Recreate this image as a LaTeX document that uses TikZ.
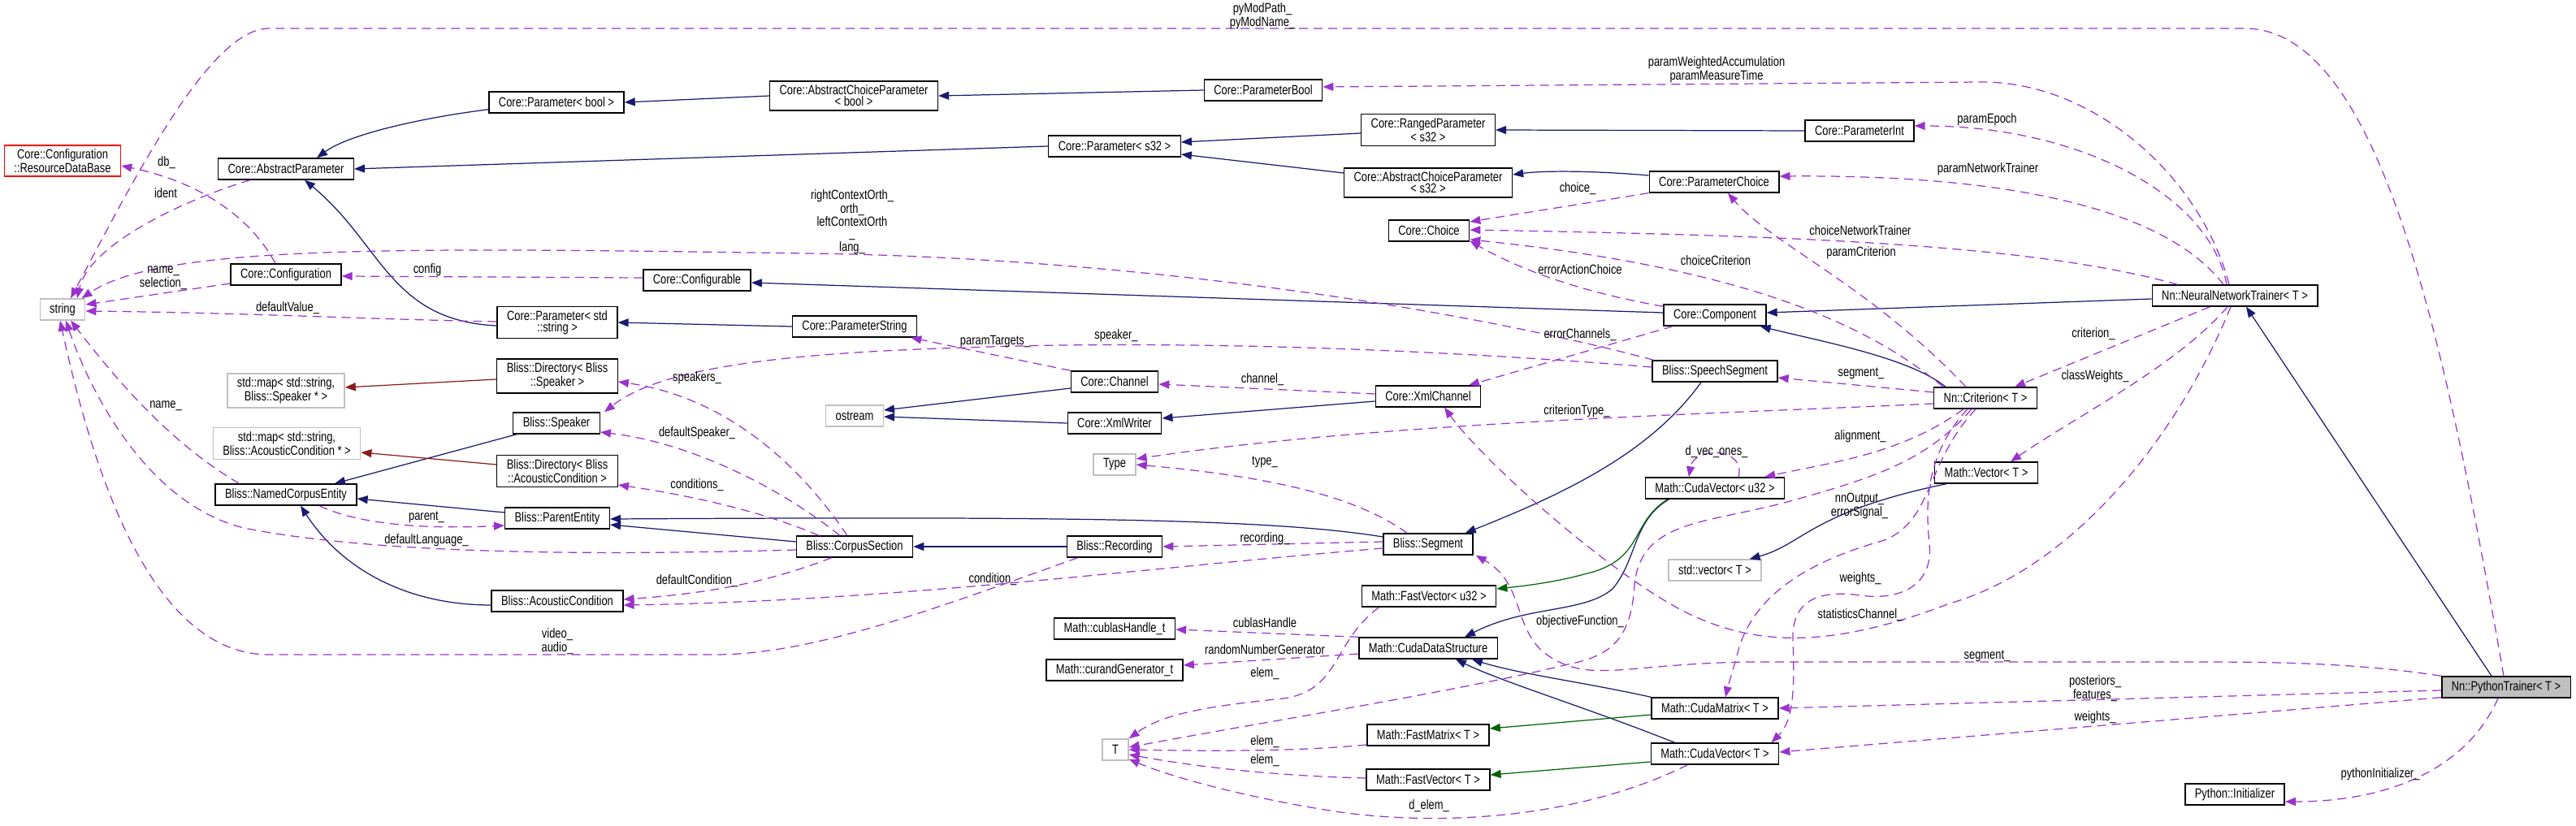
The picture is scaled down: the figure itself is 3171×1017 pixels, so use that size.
\documentclass[tikz,border=0pt]{standalone}
\usepackage{fontspec}
\usepackage{tikz}
\usetikzlibrary{arrows.meta,calc}
\newfontfamily\dxfont[FakeStretch=0.79]{Liberation Sans}
\newcommand{\dxsize}{\dxfont\fontsize{9.3}{7.8}\selectfont}
\tikzset{
  clsbox/.style  ={draw=black, line width=0.8pt, fill=white, align=center,
                   minimum height=0.52cm, inner xsep=0.24cm, inner ysep=0.1cm,
                   font=\dxsize},
  extbox/.style  ={clsbox, draw=extgray},
  undocbox/.style={clsbox, draw=red},
  selfbox/.style ={clsbox, fill=extgray},
  lbl/.style     ={font=\dxsize, align=center, inner sep=0pt},
  inharr/.style  ={-{Triangle[length=0.26cm,width=0.2cm]}, line width=0.7pt, draw=inhblue},
  tplarr/.style  ={inharr, draw=tplgreen},
  maparr/.style  ={inharr, draw=mapred},
  usearr/.style  ={inharr, draw=useorchid, dash pattern=on 0.22cm off 0.14cm},
}
\definecolor{inhblue}  {RGB}{25,25,112}
\definecolor{tplgreen} {RGB}{0,100,0}
\definecolor{mapred}   {RGB}{139,26,26}
\definecolor{useorchid}{RGB}{154,50,205}
\definecolor{extgray}  {RGB}{191,191,191}

\begin{document}
\begin{tikzpicture}[x=0.02cm,y=-0.02cm]
  \useasboundingbox (0,0) rectangle (3171,1017);
  % classes
  \node[undocbox] (resdb) at (77,198) {Core::Configuration\\::ResourceDataBase};
  \node[extbox] (str) at (77,381) {string};
  \node[clsbox] (absparam) at (352,208) {Core::AbstractParameter};
  \node[clsbox] (parbool) at (685,126) {Core::Parameter< bool >};
  \node[clsbox] (acpbool) at (1051,118) {Core::AbstractChoiceParameter\\< bool >};
  \node[clsbox] (pbool) at (1555,111) {Core::ParameterBool};
  \node[clsbox] (pars32) at (1372,180) {Core::Parameter< s32 >};
  \node[clsbox] (ranged) at (1758,160) {Core::RangedParameter\\< s32 >};
  \node[clsbox] (pint) at (2289,161) {Core::ParameterInt};
  \node[clsbox] (acps32) at (1758,225) {Core::AbstractChoiceParameter\\< s32 >};
  \node[clsbox] (pchoice) at (2110,224) {Core::ParameterChoice};
  \node[clsbox] (choice) at (1759,284) {Core::Choice};
  \node[clsbox] (config) at (352,338) {Core::Configuration};
  \node[clsbox] (configurable) at (858,345) {Core::Configurable};
  \node[clsbox] (component) at (2111,388) {Core::Component};
  \node[clsbox] (nnt) at (2751,364) {Nn::NeuralNetworkTrainer< T >};
  \node[clsbox] (parstr) at (686,397) {Core::Parameter< std\\::string >};
  \node[clsbox] (pstring) at (1052,402) {Core::ParameterString};
  \node[clsbox] (dirspk) at (686,463) {Bliss::Directory< Bliss\\::Speaker >};
  \node[extbox] (mapspk) at (352,481) {std::map< std::string,\\Bliss::Speaker * >};
  \node[clsbox] (speaker) at (685,521) {Bliss::Speaker};
  \node[extbox] (mapac) at (353,546) {std::map< std::string,\\Bliss::AcousticCondition * >};
  \node[clsbox] (dirac) at (686,580) {Bliss::Directory< Bliss\\::AcousticCondition >};
  \node[clsbox] (nce) at (352,609) {Bliss::NamedCorpusEntity};
  \node[clsbox] (parent) at (686,638) {Bliss::ParentEntity};
  \node[clsbox] (accond) at (686,740) {Bliss::AcousticCondition};
  \node[clsbox] (channel) at (1372,470) {Core::Channel};
  \node[extbox] (ostream) at (1052,512) {ostream};
  \node[clsbox] (xmlwriter) at (1372,521) {Core::XmlWriter};
  \node[extbox] (typeT) at (1372,572) {Type};
  \node[clsbox] (corpsec) at (1052,673) {Bliss::CorpusSection};
  \node[clsbox] (recording) at (1372,673) {Bliss::Recording};
  \node[clsbox] (cublas) at (1372,774) {Math::cublasHandle\_t};
  \node[clsbox] (curand) at (1372,825) {Math::curandGenerator\_t};
  \node[extbox] (tT) at (1373,923) {T};
  \node[clsbox] (speechseg) at (2111,457) {Bliss::SpeechSegment};
  \node[clsbox] (xmlchan) at (1758,488) {Core::XmlChannel};
  \node[clsbox] (crit) at (2444,490) {Nn::Criterion< T >};
  \node[clsbox] (mvec) at (2445,582) {Math::Vector< T >};
  \node[clsbox] (segment) at (1758,670) {Bliss::Segment};
  \node[clsbox] (cvu32) at (2111,601) {Math::CudaVector< u32 >};
  \node[extbox] (stdvec) at (2111,702) {std::vector< T >};
  \node[clsbox] (fvu32) at (1759,734) {Math::FastVector< u32 >};
  \node[clsbox] (cds) at (1758,798) {Math::CudaDataStructure};
  \node[clsbox] (cmat) at (2111,872) {Math::CudaMatrix< T >};
  \node[clsbox] (fmat) at (1758,905) {Math::FastMatrix< T >};
  \node[clsbox] (cvT) at (2111,928) {Math::CudaVector< T >};
  \node[clsbox] (fvT) at (1758,960) {Math::FastVector< T >};
  \node[selfbox] (pytr) at (3085,846) {Nn::PythonTrainer< T >};
  \node[clsbox] (pyinit) at (2751,978) {Python::Initializer};
  % inheritance
  \draw[inharr] ($(parbool.south west)+(0,-5)$) .. controls (520,145) and (430,165) .. ($(absparam.north)+(38,0)$);
  \draw[inharr] (acpbool.west) -- (parbool.east);
  \draw[inharr] (pbool.west) -- (acpbool.east);
  \draw[inharr] (pars32.west) -- (absparam.east);
  \draw[inharr] ($(ranged.west)+(0,4)$) -- ($(pars32.east)+(0,-5)$);
  \draw[inharr] ($(acps32.west)+(0,-12)$) -- ($(pars32.east)+(0,10)$);
  \draw[inharr] (pint.west) -- (ranged.east);
  \draw[inharr] ($(pchoice.west)+(0,-8)$) .. controls (1960,210) and (1900,210) .. ($(acps32.east)+(0,-10)$);
  \draw[inharr] ($(parstr.west)+(0,4)$) .. controls (480,395) and (470,300) .. ($(absparam.south)+(23,0)$);
  \draw[inharr] (pstring.west) -- (parstr.east);
  \draw[inharr] ($(component.west)+(0,-3)$) -- ($(configurable.east)+(0,3)$);
  \draw[inharr] ($(nnt.west)+(0,4)$) -- ($(component.east)+(0,-3)$);
  \draw[inharr] ($(crit.north west)+(15,0)$) .. controls (2350,440) and (2240,420) .. ($(component.south east)+(-8,0)$);
  \draw[inharr] ($(pytr.north)+(-18,0)$) -- ($(nnt.south)+(14,0)$);
  \draw[inharr] ($(speaker.south west)+(5,0)$) -- ($(nce.north)+(60,0)$);
  \draw[inharr] ($(parent.west)+(0,-7)$) -- ($(nce.east)+(0,5)$);
  \draw[inharr] ($(accond.west)+(0,5)$) .. controls (500,745) and (420,700) .. ($(nce.south)+(18,0)$);
  \draw[inharr] ($(corpsec.west)+(0,-6)$) -- ($(parent.east)+(0,8)$);
  \draw[inharr] ($(segment.west)+(0,-9)$) .. controls (1560,638) and (1300,636) .. ($(parent.east)+(0,1)$);
  \draw[inharr] (recording.west) -- (corpsec.east);
  \draw[inharr] ($(speechseg.south)+(-17,0)$) .. controls (2030,560) and (1920,610) .. ($(segment.north east)+(-10,0)$);
  \draw[inharr] ($(channel.west)+(0,8)$) -- ($(ostream.east)+(0,-7)$);
  \draw[inharr] (xmlwriter.west) -- ($(ostream.east)+(0,1)$);
  \draw[inharr] ($(xmlchan.west)+(0,6)$) -- ($(xmlwriter.east)+(0,-6)$);
  \draw[inharr] ($(mvec.south west)+(15,0)$) .. controls (2230,630) and (2220,670) .. ($(stdvec.north east)+(-15,0)$);
  \draw[inharr] ($(cvu32.south west)+(30,0)$) .. controls (2010,640) and (2015,690) .. (1985,725) .. controls (1950,755) and (1880,745) .. ($(cds.north)+(45,0)$);
  \draw[inharr] (cmat.north west) .. controls (1950,840) and (1870,830) .. ($(cds.south east)+(-32,0)$);
  \draw[inharr] ($(cvT.north west)+(30,0)$) .. controls (1950,870) and (1850,840) .. ($(cds.south east)+(-52,0)$);
  % template instances
  \draw[tplarr] ($(cvu32.south west)+(28,0)$) .. controls (2005,645) and (2025,690) .. (1950,707) .. controls (1910,718) and (1870,722) .. ($(fvu32.east)+(0,-9)$);
  \draw[tplarr] ($(cmat.west)+(0,8)$) -- ($(fmat.east)+(0,-8)$);
  \draw[tplarr] ($(cvT.west)+(0,10)$) -- ($(fvT.east)+(0,-6)$);
  \draw[maparr] ($(dirspk.west)+(0,4)$) -- ($(mapspk.east)+(0,-4)$);
  \draw[maparr] ($(dirac.west)+(0,-8)$) -- ($(mapac.east)+(0,11)$);
  % usage
  \draw[usearr] ($(pytr.north)+(-3,0)$) .. controls (3010,420) and (2930,35) .. (2763,35) -- (331,35) .. controls (260,35) and (170,210) .. ($(str.north)+(10,0)$);
  \draw[usearr] ($(nnt.north)+(-7,0)$) .. controls (2710,220) and (2580,101) .. (2440,101) -- ($(pbool.east)+(0,-4)$);
  \draw[usearr] ($(nnt.north)+(-10,0)$) .. controls (2720,240) and (2560,155) .. ($(pint.east)+(0,-6)$);
  \draw[usearr] ($(nnt.north)+(-14,0)$) .. controls (2660,250) and (2450,215) .. ($(pchoice.east)+(0,-7)$);
  \draw[usearr] ($(nnt.north west)+(32,0)$) .. controls (2500,300) and (2200,290) .. ($(choice.east)+(0,-1)$);
  \draw[usearr] ($(crit.north west)+(12,0)$) .. controls (2300,400) and (2150,330) .. ($(choice.east)+(0,11)$);
  \draw[usearr] ($(crit.north west)+(40,0)$) .. controls (2300,350) and (2180,300) .. ($(pchoice.south)+(17,0)$);
  \draw[usearr] ($(component.north west)+(0,3)$) .. controls (1920,355) and (1850,320) .. ($(choice.south east)+(0,-1)$);
  \draw[usearr] (pchoice.south west) -- ($(choice.east)+(0,-11)$);
  \draw[usearr] ($(component.south west)+(12,0)$) -- ($(xmlchan.north)+(50,0)$);
  \draw[usearr] ($(speechseg.north west)+(2,0)$) .. controls (1800,380) and (1400,318) .. (1000,312) .. controls (500,305) and (200,300) .. ($(str.north east)+(-5,0)$);
  \draw[usearr] ($(configurable.west)+(0,-3)$) -- ($(config.east)+(0,2)$);
  \draw[usearr] ($(config.west)+(0,11)$) -- ($(str.east)+(0,-6)$);
  \draw[usearr] ($(config.north)+(-13,0)$) .. controls (310,270) and (250,225) .. ($(resdb.east)+(0,6)$);
  \draw[usearr] ($(absparam.south west)+(40,0)$) .. controls (230,245) and (110,300) .. ($(str.north)+(18,0)$);
  \draw[usearr] ($(parstr.west)+(0,-1)$) .. controls (450,393) and (300,385) .. ($(str.east)+(0,2)$);
  \draw[usearr] ($(nce.north west)+(30,0)$) .. controls (200,540) and (130,450) .. ($(str.south)+(10,0)$);
  \draw[usearr] ($(corpsec.west)+(0,4)$) .. controls (700,685) and (450,680) .. (300,650) .. controls (180,620) and (110,480) .. ($(str.south)+(4,0)$);
  \draw[usearr] ($(recording.south west)+(14,0)$) .. controls (1150,750) and (1000,806) .. (880,806) -- (331,806) .. controls (180,806) and (110,560) .. ($(str.south)+(-3,0)$);
  \draw[usearr] ($(nce.south)+(41,0)$) .. controls (440,645) and (520,652) .. ($(parent.west)+(0,9)$);
  \draw[usearr] (channel.north west) -- ($(pstring.south east)+(-8,0)$);
  \draw[usearr] ($(speechseg.west)+(0,-5)$) .. controls (1700,425) and (1400,420) .. (1188,428) .. controls (950,435) and (810,455) .. ($(speaker.north east)+(5,0)$);
  \draw[usearr] ($(corpsec.north west)+(63,0)$) .. controls (990,580) and (900,490) .. ($(dirspk.east)+(0,7)$);
  \draw[usearr] ($(corpsec.north west)+(54,0)$) .. controls (960,600) and (850,545) .. ($(speaker.east)+(0,11)$);
  \draw[usearr] ($(corpsec.north west)+(28,0)$) .. controls (940,630) and (850,610) .. ($(dirac.east)+(0,17)$);
  \draw[usearr] ($(corpsec.south west)+(44,0)$) .. controls (950,715) and (880,730) .. ($(accond.east)+(0,-2)$);
  \draw[usearr] ($(segment.west)+(0,5)$) .. controls (1400,700) and (1100,740) .. ($(accond.east)+(0,5)$);
  \draw[usearr] ($(segment.west)+(0,-3)$) -- (recording.east);
  \draw[usearr] ($(segment.north west)+(30,0)$) .. controls (1680,620) and (1600,590) .. (typeT.east);
  \draw[usearr] ($(crit.west)+(0,7)$) .. controls (2100,510) and (1700,520) .. ($(typeT.east)+(0,-7)$);
  \draw[usearr] ($(crit.west)+(0,-7)$) -- ($(speechseg.east)+(0,8)$);
  \draw[usearr] ($(crit.south west)+(37,0)$) .. controls (2340,560) and (2250,570) .. ($(cvu32.north east)+(-25,0)$);
  \draw[usearr] ($(cvu32.north)+(29,0)$) .. controls (2150,550) and (2085,550) .. ($(cvu32.north)+(-32,0)$);
  \draw[usearr] ($(crit.south west)+(52,0)$) .. controls (2370,570) and (2380,640) .. (2320,665) .. controls (2230,690) and (2160,730) .. (2140,800) .. controls (2132,830) and (2127,845) .. ($(cmat.north)+(13,0)$);
  \draw[usearr] ($(crit.south west)+(47,0)$) .. controls (2370,570) and (2300,590) .. (2200,618) .. controls (2100,645) and (2020,640) .. (2012,720) .. controls (2008,790) and (1980,808) .. (1930,818) .. controls (1800,850) and (1550,890) .. ($(tT.east)+(0,-3)$);
  \draw[usearr] ($(crit.south west)+(42,0)$) .. controls (2370,560) and (2370,620) .. (2375,670) .. controls (2380,720) and (2340,740) .. (2290,733) .. controls (2230,725) and (2205,745) .. (2207,790) .. controls (2210,860) and (2205,890) .. ($(cvT.north east)+(-10,0)$);
  \draw[usearr] ($(nnt.south)+(-5,0)$) .. controls (2680,540) and (2550,700) .. (2400,743) .. controls (2250,800) and (2150,800) .. (2050,740) .. controls (1950,680) and (1820,560) .. ($(xmlchan.south)+(20,0)$);
  \draw[usearr] ($(nnt.south west)+(72,0)$) -- ($(crit.north east)+(-28,0)$);
  \draw[usearr] ($(nnt.south)+(-9,0)$) .. controls (2680,450) and (2560,510) .. ($(mvec.north)+(30,0)$);
  \draw[usearr] (pytr.north west) .. controls (2900,816) and (2800,815) .. (2700,815) -- (2150,815) .. controls (2000,818) and (1960,840) .. (1910,810) .. controls (1860,780) and (1880,720) .. ($(segment.south east)+(3,0)$);
  \draw[usearr] ($(pytr.west)+(0,4)$) -- (cmat.east);
  \draw[usearr] ($(pytr.south west)+(0,-1)$) -- ($(cvT.east)+(0,-2)$);
  \draw[usearr] ($(pytr.south)+(-10,0)$) .. controls (3040,940) and (2950,987) .. ($(pyinit.east)+(0,9)$);
  \draw[usearr] ($(xmlchan.west)+(0,-3)$) -- ($(channel.east)+(0,3)$);
  \draw[usearr] (cds.north west) -- ($(cublas.east)+(0,1)$);
  \draw[usearr] ($(cds.west)+(0,7)$) -- ($(curand.east)+(0,-6)$);
  \draw[usearr] ($(fvu32.south west)+(22,0)$) .. controls (1640,790) and (1650,850) .. (1580,860) .. controls (1480,870) and (1430,880) .. (tT.north east);
  \draw[usearr] ($(fmat.west)+(0,12)$) .. controls (1600,925) and (1500,925) .. (tT.east);
  \draw[usearr] ($(fvT.west)+(0,-2)$) .. controls (1550,955) and (1450,940) .. ($(tT.east)+(0,6)$);
  \draw[usearr] ($(cvT.south west)+(46,0)$) .. controls (1960,1000) and (1800,1020) .. (1650,1000) .. controls (1550,985) and (1450,960) .. ($(tT.south east)+(0,-2)$);
  % edge labels
  \node[lbl] (lbPyMod) at (1554,20) {pyModPath\_\\pyModName\_};
  \node[lbl] (lbWeighted) at (2113,86) {paramWeightedAccumulation\\paramMeasureTime};
  \node[lbl] (lbEpoch) at (2446,147) {paramEpoch};
  \node[lbl] (lbNetTrainer) at (2447,208) {paramNetworkTrainer};
  \node[lbl] (lbChoiceNet) at (2290,284) {choiceNetworkTrainer};
  \node[lbl] (lbParamCrit) at (2291,311) {paramCriterion};
  \node[lbl] (lbChoiceCrit) at (2112,321) {choiceCriterion};
  \node[lbl] (lbErrAction) at (1945,332) {errorActionChoice};
  \node[lbl] (lbChoice) at (1942,232) {choice\_};
  \node[lbl] (lbErrChan) at (1945,412) {errorChannels\_};
  \node[lbl] (lbSegCrit) at (2291,460) {segment\_};
  \node[lbl] (lbCritType) at (1941,506) {criterionType\_};
  \node[lbl] (lbCriterion) at (2577,411) {criterion\_};
  \node[lbl] (lbClassW) at (2579,463) {classWeights\_};
  \node[lbl] (lbAlign) at (2290,537) {alignment\_};
  \node[lbl] (lbOnes) at (2113,556) {d\_vec\_ones\_};
  \node[lbl] (lbNnOut) at (2289,623) {nnOutput\_\\errorSignal\_};
  \node[lbl] (lbWeightsCrit) at (2290,712) {weights\_};
  \node[lbl] (lbStats) at (2290,757) {statisticsChannel\_};
  \node[lbl] (lbObjective) at (1945,765) {objectiveFunction\_};
  \node[lbl] (lbDElem) at (1759,992) {d\_elem\_};
  \node[lbl] (lbSegPy) at (2446,808) {segment\_};
  \node[lbl] (lbPost) at (2579,848) {posteriors\_\\features\_};
  \node[lbl] (lbWeightsPy) at (2579,883) {weights\_};
  \node[lbl] (lbPyInit) at (2930,953) {pythonInitializer\_};
  \node[lbl] (lbOrth) at (1049,273) {rightContextOrth\_\\orth\_\\leftContextOrth\\\_\\lang\_};
  \node[lbl] (lbSpeaker) at (1374,413) {speaker\_};
  \node[lbl] (lbTargets) at (1225,421) {paramTargets\_};
  \node[lbl] (lbSpeakers) at (858,465) {speakers\_};
  \node[lbl] (lbChannel) at (1554,467) {channel\_};
  \node[lbl] (lbDefSpk) at (858,533) {defaultSpeaker\_};
  \node[lbl] (lbConds) at (858,597) {conditions\_};
  \node[lbl] (lbDefCond) at (858,715) {defaultCondition\_};
  \node[lbl] (lbCond) at (1222,713) {condition\_};
  \node[lbl] (lbType) at (1557,569) {type\_};
  \node[lbl] (lbRec) at (1557,663) {recording\_};
  \node[lbl] (lbCublas) at (1557,767) {cublasHandle};
  \node[lbl] (lbRandom) at (1557,800) {randomNumberGenerator};
  \node[lbl] (lbElemU32) at (1557,829) {elem\_};
  \node[lbl] (lbElemMat) at (1557,913) {elem\_};
  \node[lbl] (lbElemVec) at (1557,936) {elem\_};
  \node[lbl] (lbDb) at (205,200) {db\_};
  \node[lbl] (lbIdent) at (204,238) {ident};
  \node[lbl] (lbNameSel) at (201,342) {name\_\\selection\_};
  \node[lbl] (lbConfig) at (526,332) {config};
  \node[lbl] (lbDefVal) at (354,379) {defaultValue\_};
  \node[lbl] (lbName) at (204,500) {name\_};
  \node[lbl] (lbParent) at (525,637) {parent\_};
  \node[lbl] (lbDefLang) at (525,665) {defaultLanguage\_};
  \node[lbl] (lbVideo) at (686,790) {video\_\\audio\_};
\end{tikzpicture}
\end{document}
